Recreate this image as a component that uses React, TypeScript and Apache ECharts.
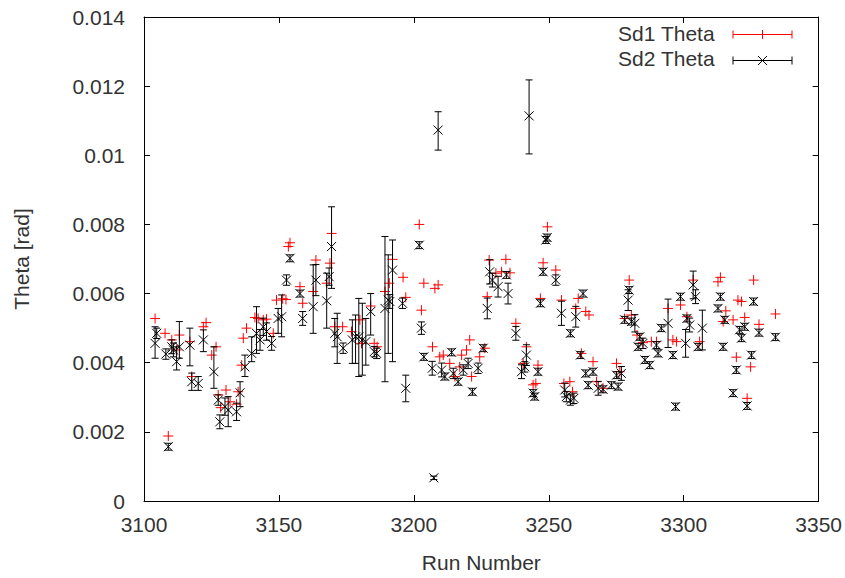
import React, { useEffect, useRef } from "react";
import * as echarts from "echarts";

// Sd2 Theta (black, with error bars): run, theta, lower, upper
const sd2Run = [3104.1,3104.7,3108.1,3109.0,3110.3,3110.9,3112.1,3113.1,3117.0,3117.7,3120.1,3122.0,3125.9,3127.5,3128.1,3130.0,3131.2,3134.3,3135.6,3137.4,3139.9,3141.7,3143.0,3144.2,3145.4,3147.3,3149.7,3151.0,3152.8,3154.1,3157.8,3158.8,3162.7,3163.7,3167.7,3168.6,3169.5,3170.7,3171.6,3173.8,3177.2,3178.4,3179.6,3180.9,3182.2,3184.0,3185.3,3186.2,3189.3,3190.5,3191.1,3192.1,3195.8,3197.0,3202.0,3202.8,3203.7,3206.8,3207.4,3209.0,3210.3,3211.5,3214.0,3214.6,3216.4,3218.3,3220.1,3221.7,3223.8,3225.7,3227.2,3228.1,3229.1,3231.2,3234.3,3234.9,3237.8,3239.9,3241.1,3241.7,3242.7,3244.2,3244.8,3246.0,3246.9,3247.9,3248.9,3249.4,3252.6,3254.7,3255.9,3256.5,3258.0,3258.0,3259.3,3260.0,3261.7,3262.7,3263.7,3264.6,3266.4,3268.3,3270.1,3273.2,3275.1,3275.7,3276.9,3278.1,3279.4,3279.8,3280.6,3281.9,3283.1,3283.7,3284.9,3285.6,3287.4,3289.9,3290.5,3291.7,3294.2,3296.0,3297.0,3298.8,3300.7,3301.2,3302.2,3303.5,3304.4,3305.3,3306.9,3312.7,3313.6,3314.6,3315.2,3318.3,3319.5,3320.7,3321.4,3322.6,3323.5,3325.1,3325.9,3327.9,3334.0];
const sd2Theta = [0.00456,0.00485,0.00425,0.00157,0.00446,0.00437,0.00403,0.00446,0.00451,0.00345,0.0034,0.00466,0.00374,0.00292,0.00229,0.00273,0.00263,0.00258,0.00313,0.00388,0.00427,0.00485,0.00466,0.00504,0.0049,0.00456,0.00528,0.00533,0.00639,0.00702,0.006,0.00528,0.00562,0.00639,0.00579,0.00649,0.00736,0.00485,0.00475,0.00442,0.00466,0.00475,0.00475,0.00466,0.00461,0.00548,0.00432,0.00427,0.00557,0.00581,0.00577,0.00668,0.00572,0.00326,0.0074,0.005,0.00417,0.00384,0.00067,0.01073,0.00379,0.0036,0.0043,0.00369,0.00345,0.00379,0.00398,0.00316,0.00384,0.00442,0.00557,0.00663,0.00639,0.0062,0.00654,0.006,0.00485,0.00374,0.00388,0.00422,0.01114,0.00312,0.00302,0.00374,0.00572,0.00663,0.00755,0.00762,0.00639,0.00543,0.00321,0.00302,0.00292,0.00485,0.00297,0.00533,0.00422,0.006,0.00369,0.00335,0.00374,0.00326,0.00323,0.00335,0.00364,0.00331,0.00369,0.00524,0.00581,0.0061,0.00519,0.00514,0.00446,0.00475,0.00456,0.00408,0.00393,0.00451,0.00427,0.005,0.00514,0.00422,0.00273,0.00591,0.00456,0.00528,0.00509,0.00625,0.00591,0.00446,0.005,0.00557,0.00591,0.00446,0.00524,0.00312,0.00379,0.00495,0.00471,0.00504,0.00275,0.00422,0.00577,0.00487,0.00474];
const sd2Low = [0.00413,0.0047,0.0041,0.00147,0.00426,0.00417,0.00379,0.00413,0.00391,0.0032,0.0032,0.00432,0.00326,0.00277,0.00209,0.00248,0.00215,0.00233,0.00273,0.0036,0.00403,0.00427,0.00436,0.00479,0.00465,0.00436,0.00485,0.00475,0.00624,0.00692,0.0059,0.00508,0.00485,0.00594,0.005,0.00624,0.00615,0.00446,0.00398,0.00427,0.00398,0.00398,0.0036,0.00364,0.00393,0.0048,0.00417,0.00412,0.00345,0.00427,0.00557,0.00403,0.00557,0.00287,0.0073,0.00482,0.00407,0.00364,0.00062,0.01015,0.00359,0.0035,0.0042,0.00354,0.00335,0.00364,0.00383,0.00306,0.00369,0.00432,0.00527,0.00628,0.00619,0.0059,0.00644,0.0057,0.00465,0.00354,0.00373,0.00392,0.01004,0.00302,0.00292,0.00364,0.00562,0.00653,0.00745,0.00752,0.00624,0.00508,0.00301,0.00287,0.00277,0.00475,0.00282,0.00503,0.00412,0.0059,0.00359,0.00325,0.00364,0.00306,0.00313,0.00325,0.00354,0.00321,0.00349,0.00514,0.00551,0.006,0.00509,0.00489,0.00436,0.00465,0.00441,0.00398,0.00383,0.00441,0.00417,0.0049,0.00444,0.00412,0.00263,0.00581,0.00416,0.00518,0.00489,0.00585,0.00571,0.00436,0.00437,0.00547,0.00581,0.00436,0.00514,0.00302,0.00369,0.00485,0.00461,0.00494,0.00265,0.00412,0.00567,0.00477,0.00464];
const sd2High = [0.00504,0.005,0.0044,0.00167,0.00466,0.00457,0.00446,0.00519,0.005,0.0037,0.0036,0.00495,0.00446,0.00307,0.00249,0.00298,0.00302,0.00283,0.00345,0.00422,0.00475,0.00562,0.00496,0.00529,0.00515,0.00476,0.00557,0.00596,0.00654,0.00712,0.0061,0.00548,0.00683,0.00684,0.00659,0.00674,0.00851,0.00528,0.00543,0.00457,0.00524,0.00538,0.00586,0.00572,0.00528,0.006,0.00447,0.00442,0.00765,0.00712,0.00597,0.00755,0.00587,0.00364,0.0075,0.00518,0.00427,0.00404,0.00072,0.01126,0.00399,0.0037,0.0044,0.00384,0.00355,0.00394,0.00413,0.00326,0.00399,0.00452,0.00587,0.00698,0.00659,0.0065,0.00664,0.0063,0.00505,0.00394,0.00403,0.00452,0.01218,0.00322,0.00312,0.00384,0.00582,0.00673,0.00765,0.00772,0.00654,0.00578,0.00341,0.00317,0.00307,0.00495,0.00312,0.00563,0.00432,0.0061,0.00379,0.00345,0.00384,0.00346,0.00333,0.00345,0.00374,0.00341,0.00389,0.00534,0.00611,0.0062,0.00529,0.00539,0.00456,0.00485,0.00471,0.00418,0.00403,0.00461,0.00437,0.0051,0.00584,0.00432,0.00283,0.00601,0.00496,0.00538,0.00529,0.00665,0.00611,0.00456,0.00552,0.00567,0.00601,0.00456,0.00534,0.00322,0.00389,0.00505,0.00481,0.00514,0.00285,0.00432,0.00587,0.00497,0.00484];

// Sd1 Theta (red)
const sd1Run = [3104.1,3107.8,3109.0,3110.3,3112.1,3113.1,3117.0,3117.7,3122.0,3123.0,3125.1,3126.7,3127.5,3128.4,3130.4,3131.9,3134.3,3134.9,3136.2,3136.8,3138.0,3141.1,3142.3,3144.2,3145.4,3147.9,3149.1,3151.4,3152.6,3153.5,3154.1,3157.8,3158.8,3162.7,3163.7,3167.7,3168.9,3169.5,3170.7,3173.6,3176.9,3180.0,3180.6,3184.0,3185.3,3186.4,3189.3,3190.9,3192.1,3196.0,3197.0,3202.0,3202.8,3203.7,3206.9,3207.8,3209.0,3209.6,3210.9,3213.3,3215.2,3217.0,3217.7,3219.5,3220.7,3221.4,3224.4,3226.3,3227.2,3227.9,3230.4,3232.5,3234.1,3235.6,3237.8,3240.5,3241.7,3244.2,3245.2,3246.0,3246.9,3247.9,3249.5,3252.6,3254.7,3255.6,3257.8,3258.8,3260.0,3260.9,3262.1,3263.7,3264.9,3266.4,3267.7,3270.1,3275.1,3276.3,3278.1,3279.8,3280.6,3282.7,3284.9,3288.0,3289.9,3294.2,3296.0,3297.3,3298.8,3301.2,3303.5,3305.9,3312.7,3313.6,3314.6,3315.6,3318.3,3319.5,3320.1,3321.4,3322.6,3323.5,3324.8,3325.9,3327.9,3334.0];
const sd1Theta = [0.00528,0.00485,0.00188,0.00466,0.00437,0.0048,0.00461,0.0036,0.00504,0.00516,0.00422,0.00446,0.00307,0.0027,0.00321,0.00287,0.0028,0.00316,0.00393,0.00471,0.005,0.00531,0.00528,0.00524,0.00526,0.00485,0.00581,0.00585,0.00583,0.00736,0.00747,0.0062,0.00572,0.00606,0.00697,0.0063,0.00688,0.00774,0.00504,0.00504,0.0049,0.00524,0.00456,0.00564,0.00456,0.00446,0.00606,0.0063,0.00699,0.00647,0.00589,0.008,0.00552,0.0063,0.00446,0.00615,0.00625,0.00417,0.00422,0.00398,0.0036,0.00388,0.00422,0.00437,0.00466,0.0036,0.00417,0.00442,0.00591,0.00697,0.00659,0.00663,0.00699,0.0066,0.00514,0.00398,0.00446,0.00336,0.0034,0.00393,0.00586,0.00689,0.00793,0.00668,0.00581,0.0034,0.00345,0.00316,0.00557,0.00586,0.00427,0.00548,0.00538,0.00403,0.00345,0.00326,0.00398,0.00374,0.00528,0.00639,0.00538,0.0048,0.00458,0.00461,0.00461,0.00557,0.00466,0.00461,0.00567,0.00533,0.00639,0.00461,0.00634,0.00647,0.00519,0.0055,0.00524,0.00416,0.00581,0.00577,0.00531,0.00297,0.00388,0.00639,0.00511,0.00541];

const xTickLabels = ["3100", "3150", "3200", "3250", "3300", "3350"];
const yTickLabels = ["0", "0.002", "0.004", "0.006", "0.008", "0.01", "0.012", "0.014"];
const seriesNames = ["Sd1 Theta", "Sd2 Theta"];

const FONT = "'Liberation Sans', Arial, sans-serif";
const TXT = "#333";
const FS = 21;

export default function App() {
  const ref = useRef<HTMLDivElement>(null);
  useEffect(() => {
    if (!ref.current) return;
    const chart = echarts.init(ref.current, null, { renderer: "svg" });
    const sd2Data = sd2Run.map((r, i) => [r, sd2Theta[i], sd2Low[i], sd2High[i]]);
    const sd1Data = sd1Run.map((r, i) => [r, sd1Theta[i]]);
    const ls = (c: string) => ({ stroke: c, lineWidth: 1 });
    const axisCommon = {
      type: "value" as const,
      splitLine: { show: false },
      axisLine: { show: true, onZero: false, lineStyle: { color: "#000", width: 1 } },
      axisTick: { show: true, inside: true, length: 6, lineStyle: { color: "#000" } },
    };
    const xLabel = (v: number) => xTickLabels[Math.round((v - 3100) / 50)] ?? "";
    const yLabel = (v: number) => yTickLabels[Math.round(v / 0.002)] ?? "";
    chart.setOption({
      animation: false,
      backgroundColor: "#fff",
      grid: { left: 144, right: 26, top: 17, bottom: 77 },
      xAxis: [
        {
          ...axisCommon, position: "bottom", min: 3100, max: 3350, interval: 50,
          name: "Run Number", nameLocation: "middle", nameGap: 51,
          nameTextStyle: { fontFamily: FONT, fontSize: FS, color: TXT },
          axisLabel: { fontFamily: FONT, fontSize: FS, color: TXT, margin: 13, formatter: xLabel },
        },
        {
          ...axisCommon, position: "top", min: 3100, max: 3350, interval: 50,
          axisLabel: { show: false },
        },
      ],
      yAxis: [
        {
          ...axisCommon, position: "left", min: 0, max: 0.014, interval: 0.002,
          name: "Theta [rad]", nameLocation: "middle", nameGap: 112,
          nameTextStyle: { fontFamily: FONT, fontSize: FS, color: TXT },
          axisLabel: { fontFamily: FONT, fontSize: FS, color: TXT, margin: 19, formatter: yLabel },
        },
        {
          ...axisCommon, position: "right", min: 0, max: 0.014, interval: 0.002,
          axisLabel: { show: false },
        },
      ],
      series: [
        {
          name: seriesNames[0],
          type: "custom",
          xAxisIndex: 0, yAxisIndex: 0,
          data: sd1Data,
          encode: { x: 0, y: 1 },
          z: 2,
          renderItem: (_p: any, api: any) => {
            const c = api.coord([api.value(0), api.value(1)]);
            const s = 5;
            return {
              type: "group",
              children: [
                { type: "line", shape: { x1: c[0] - s, y1: c[1], x2: c[0] + s, y2: c[1] }, style: ls("#ff0000") },
                { type: "line", shape: { x1: c[0], y1: c[1] - s, x2: c[0], y2: c[1] + s }, style: ls("#ff0000") },
              ],
            };
          },
        },
        {
          name: seriesNames[1],
          type: "custom",
          xAxisIndex: 0, yAxisIndex: 0,
          data: sd2Data,
          encode: { x: 0, y: 1 },
          z: 3,
          renderItem: (_p: any, api: any) => {
            const x = api.value(0);
            const c = api.coord([x, api.value(1)]);
            const lo = api.coord([x, api.value(2)]);
            const hi = api.coord([x, api.value(3)]);
            const s = 4.5;
            const w = 3.5;
            const st = ls("#000");
            return {
              type: "group",
              children: [
                { type: "line", shape: { x1: c[0], y1: lo[1], x2: c[0], y2: hi[1] }, style: st },
                { type: "line", shape: { x1: c[0] - w, y1: lo[1], x2: c[0] + w, y2: lo[1] }, style: st },
                { type: "line", shape: { x1: c[0] - w, y1: hi[1], x2: c[0] + w, y2: hi[1] }, style: st },
                { type: "line", shape: { x1: c[0] - s, y1: c[1] - s, x2: c[0] + s, y2: c[1] + s }, style: st },
                { type: "line", shape: { x1: c[0] - s, y1: c[1] + s, x2: c[0] + s, y2: c[1] - s }, style: st },
              ],
            };
          },
        },
      ],
      graphic: [
        { type: "text", right: 845 - 715, top: 23, style: { text: seriesNames[0], fontFamily: FONT, fontSize: FS, fill: TXT } },
        { type: "text", right: 845 - 715, top: 48, style: { text: seriesNames[1], fontFamily: FONT, fontSize: FS, fill: TXT } },
        { type: "line", shape: { x1: 733, y1: 34.5, x2: 792, y2: 34.5 }, style: ls("#ff0000") },
        { type: "line", shape: { x1: 733, y1: 30.5, x2: 733, y2: 38.5 }, style: ls("#ff0000") },
        { type: "line", shape: { x1: 792, y1: 30.5, x2: 792, y2: 38.5 }, style: ls("#ff0000") },
        { type: "line", shape: { x1: 762.5, y1: 30, x2: 762.5, y2: 39 }, style: ls("#ff0000") },
        { type: "line", shape: { x1: 733, y1: 60.5, x2: 792, y2: 60.5 }, style: ls("#000") },
        { type: "line", shape: { x1: 733, y1: 56.5, x2: 733, y2: 64.5 }, style: ls("#000") },
        { type: "line", shape: { x1: 792, y1: 56.5, x2: 792, y2: 64.5 }, style: ls("#000") },
        { type: "line", shape: { x1: 758, y1: 56, x2: 767, y2: 65 }, style: ls("#000") },
        { type: "line", shape: { x1: 758, y1: 65, x2: 767, y2: 56 }, style: ls("#000") },
      ],
    });
    return () => chart.dispose();
  }, []);
  return (
    <div
      ref={ref}
      style={{ position: "fixed", left: 0, top: 0, width: 845, height: 578, background: "#fff" }}
    />
  );
}
